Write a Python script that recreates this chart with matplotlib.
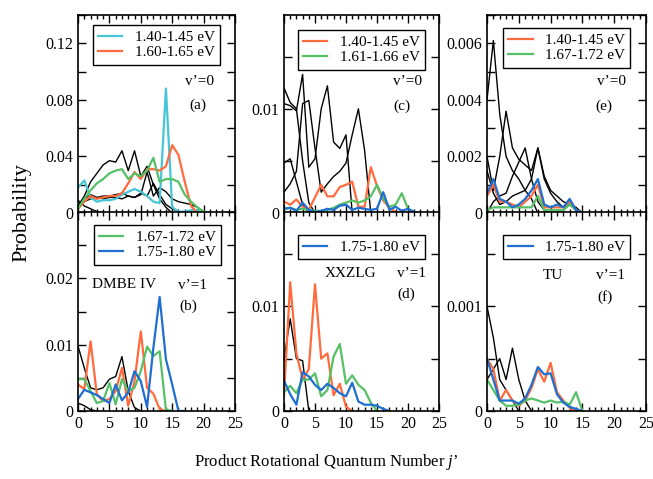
import numpy as np
import matplotlib.pyplot as plt

plt.rcParams["font.family"] = ["Liberation Serif", "DejaVu Serif"]
plt.rcParams["mathtext.fontset"] = "custom"
plt.rcParams["mathtext.it"] = "Liberation Serif:italic"

cyan = "#45c5d5"
orange = "#ff6b3d"
green = "#55c065"
blue = "#1f6fd1"

# (a) DMBE IV, v'=0
a_cyan = [0.018, 0.023, 0.011, 0.008, 0.009, 0.009, 0.010, 0.013, 0.015, 0.017, 0.015,
          0.012, 0.008, 0.007, 0.088, 0.004, 0.001, 0.001, 0.002, 0.002, 0.001, 0.0]
a_orange = [0.003, 0.008, 0.012, 0.010, 0.011, 0.012, 0.012, 0.014, 0.021, 0.029, 0.024,
            0.031, 0.031, 0.030, 0.033, 0.048, 0.041, 0.022, 0.005, 0.0]
a_green = [0.003, 0.010, 0.016, 0.021, 0.024, 0.028, 0.030, 0.031, 0.024, 0.028, 0.026,
           0.030, 0.039, 0.022, 0.024, 0.024, 0.022, 0.013, 0.008, 0.004, 0.001, 0.0]
a_black = [
    [0.005, 0.012, 0.022, 0.028, 0.034, 0.037, 0.036, 0.044, 0.030, 0.044, 0.026, 0.033,
     0.020, 0.010, 0.004, 0.0],
    [0.003, 0.010, 0.013, 0.011, 0.012, 0.012, 0.013, 0.014, 0.012, 0.011, 0.013, 0.029,
     0.012, 0.018, 0.015, 0.010, 0.008, 0.007, 0.006, 0.004, 0.001, 0.0],
    [0.009, 0.005, 0.003, 0.001, 0.0],
    [0.004, 0.008, 0.010, 0.011, 0.010, 0.011, 0.011, 0.010, 0.012, 0.011, 0.014, 0.012,
     0.021, 0.013, 0.006, 0.003, 0.001, 0.0],
]

# (b) DMBE IV, v'=1
b_orange = [0.0040, 0.0033, 0.0105, 0.0025, 0.0015, 0.0018, 0.0030, 0.0065, 0.0008, 0.0045,
            0.0120, 0.0035, 0.0026, 0.0003, 0.0]
b_green = [0.0048, 0.0048, 0.0030, 0.0012, 0.0015, 0.0042, 0.0010, 0.0048, 0.0030, 0.0035,
           0.0060, 0.0097, 0.0083, 0.0090, 0.0002, 0.0]
b_blue = [0.0018, 0.0032, 0.0028, 0.0024, 0.0018, 0.0012, 0.0040, 0.0016, 0.0028, 0.0060,
          0.0045, 0.0006, 0.0095, 0.0172, 0.0078, 0.0040, 0.0, 0.0]
b_black = [
    [0.0098, 0.0065, 0.0035, 0.0032, 0.0035, 0.0048, 0.0052, 0.0082, 0.0030, 0.0005, 0.0],
    [0.0012, 0.0008, 0.0002, 0.0],
]

# (c) XXZLG, v'=0
c_orange = [0.0011, 0.0008, 0.0013, 0.0006, 0.0003, 0.0015, 0.0027, 0.0016, 0.0016, 0.0025,
            0.0027, 0.0030, 0.0006, 0.0006, 0.0044, 0.0026, 0.0012, 0.0005, 0.0001, 0.0]
c_green = [0.0004, 0.0005, 0.0003, 0.0004, 0.0003, 0.0002, 0.0002, 0.0003, 0.0005, 0.0008,
           0.0010, 0.0012, 0.0010, 0.0012, 0.0016, 0.0027, 0.0014, 0.0006, 0.0008, 0.0019,
           0.0004, 0.0001, 0.0]
c_blue = [0.0004, 0.0005, 0.0002, 0.0010, 0.0003, 0.0001, 0.0002, 0.0004, 0.0003, 0.0007,
          0.0008, 0.0003, 0.0005, 0.0004, 0.0003, 0.0004, 0.0020, 0.0003, 0.0006, 0.0002,
          0.0004, 0.0001, 0.0]
c_black = [
    [0.0120, 0.0106, 0.0100, 0.0050, 0.0010, 0.0],
    [0.0105, 0.0103, 0.0098, 0.0133, 0.0044, 0.0052, 0.0100, 0.0122, 0.0068, 0.0062, 0.0075,
     0.0, 0.0],
    [0.0020, 0.0028, 0.0040, 0.0105, 0.0108, 0.0062, 0.0020, 0.0028, 0.0035, 0.0040, 0.0048,
     0.0075, 0.0100, 0.0060, 0.0],
    [0.0048, 0.0052, 0.0030, 0.0008, 0.0],
]

# (d) XXZLG, v'=1
d_orange = [0.0015, 0.0123, 0.0055, 0.0030, 0.0040, 0.0121, 0.0050, 0.0055, 0.0015, 0.0026,
            0.0004, 0.0]
d_green = [0.0018, 0.0024, 0.0017, 0.0030, 0.0030, 0.0036, 0.0014, 0.0020, 0.0052, 0.0064,
           0.0026, 0.0034, 0.0025, 0.0020, 0.0008, 0.0]
d_blue = [0.0029, 0.0016, 0.0006, 0.0037, 0.0033, 0.0025, 0.0020, 0.0026, 0.0022, 0.0017,
          0.0014, 0.0027, 0.0009, 0.0006, 0.0006, 0.0005, 0.0002, 0.0]
d_black = [
    [0.0050, 0.0088, 0.0050, 0.0048, 0.0, 0.0],
]

# (e) TU, v'=0
e_orange = [0.0006, 0.0010, 0.0004, 0.0004, 0.0003, 0.0002, 0.0004, 0.0006, 0.0010, 0.0002,
            0.0002, 0.0002, 0.0002, 0.0004, 0.0001, 0.0]
e_green = [0.0001, 0.0002, 0.0002, 0.0002, 0.0002, 0.0002, 0.0002, 0.0002, 0.0006, 0.0001,
           0.0001, 0.0001, 0.0001, 0.0003, 0.0001, 0.0]
e_blue = [0.0007, 0.0012, 0.0005, 0.0004, 0.0002, 0.0003, 0.0005, 0.0008, 0.0012, 0.0003,
          0.0002, 0.0003, 0.0002, 0.0005, 0.0001, 0.0]
e_black = [
    [0.0040, 0.0061, 0.0035, 0.0020, 0.0015, 0.0012, 0.0008, 0.0005, 0.0],
    [0.0020, 0.0008, 0.0020, 0.0036, 0.0023, 0.0019, 0.0017, 0.0015, 0.0023, 0.0012, 0.0007,
     0.0004, 0.0002, 0.0003, 0.0001, 0.0],
    [0.0, 0.0004, 0.0006, 0.0007, 0.0013, 0.0018, 0.0023, 0.0012, 0.0004, 0.0001, 0.0],
    [0.0015, 0.0007, 0.0003, 0.0004, 0.0006, 0.0007, 0.0008, 0.0012, 0.0023, 0.0013, 0.0008,
     0.0006, 0.0004, 0.0003, 0.0002, 0.0],
]

# (f) TU, v'=1
f_orange = [0.0005, 0.0004, 0.0001, 0.0002, 0.0001, 0.00005, 0.0001, 0.00022, 0.00040,
            0.00028, 0.00046, 0.00018, 0.0001, 0.00003, 0.0]
f_green = [0.0003, 0.0002, 0.0001, 0.00005, 0.00005, 0.00006, 0.0001, 0.00012, 0.0001,
           0.00008, 0.0001, 0.00008, 0.00009, 0.00006, 0.00018, 0.0]
f_blue = [0.0005, 0.0003, 0.0001, 0.0001, 0.0001, 0.00007, 0.00012, 0.00025, 0.00042,
          0.00035, 0.00036, 0.00016, 0.00008, 0.00004, 0.00002, 0.0]
f_black = [
    [0.0010, 0.0007, 0.0003, 0.0002, 0.0001, 0.0],
    [0.0003, 0.0004, 0.0005, 0.0003, 0.0006, 0.0003, 0.0001, 0.0],
]


def draw(ax, blacks, colored):
    for ys in blacks:
        ax.plot(np.arange(len(ys)), ys, color="black", lw=1.0)
    for ys, col, lab in colored:
        ax.plot(np.arange(len(ys)), ys, color=col, lw=1.6, label=lab)


def setup(ax, ymax, ystep, ylabels, bottom):
    ax.set_xlim(0, 25)
    ax.set_ylim(0, ymax)
    ax.set_xticks(range(0, 26, 5))
    ax.set_xticks(range(26), minor=True)
    yt = np.arange(0, ymax + 1e-12, ystep)
    ax.set_yticks(yt)
    ax.set_yticklabels([ylabels.get(i, "") for i in range(len(yt))])
    ax.tick_params(which="both", direction="in", top=True, right=True, labelsize=11.5,
                   width=1.0)
    ax.tick_params(which="major", length=5.5)
    ax.tick_params(which="minor", length=3)
    if not bottom:
        ax.set_xticklabels([])
    for s in ax.spines.values():
        s.set_linewidth(1.2)


def leg(ax, x, y):
    ax.legend(loc="upper right", bbox_to_anchor=(x, y), fontsize=11, frameon=True,
              fancybox=False, edgecolor="black", framealpha=1, handlelength=1.6,
              handletextpad=0.8, labelspacing=0.1, borderpad=0.35, borderaxespad=0)


def note(ax, x, y, s):
    ax.text(x, y, s, transform=ax.transAxes, ha="center", va="center", fontsize=11)


fig = plt.figure(figsize=(6.53, 4.79), dpi=100)
cols = [(78, 157), (284, 155), (487, 159)]
rows = [(15, 198), (212, 199)]
axes = {}
for r, (top, h) in enumerate(rows):
    for c, (left, w) in enumerate(cols):
        axes[(r, c)] = fig.add_axes([left / 653, 1 - (top + h) / 479, w / 653, h / 479])

# (a)
ax = axes[(0, 0)]
draw(ax, a_black, [(a_cyan, cyan, "1.40-1.45 eV"), (a_orange, orange, "1.60-1.65 eV"),
                   (a_green, green, None)])
setup(ax, 0.14, 0.02, {0: "0", 2: "0.04", 4: "0.08", 6: "0.12"}, False)
leg(ax, 0.904, 0.95)
note(ax, 0.777, 0.662, "v’=0")
note(ax, 0.764, 0.545, "(a)")

# (b)
ax = axes[(1, 0)]
draw(ax, b_black, [(b_orange, orange, None), (b_green, green, "1.67-1.72 eV"),
                   (b_blue, blue, "1.75-1.80 eV")])
setup(ax, 0.03, 0.005, {0: "0", 2: "0.01", 4: "0.02"}, True)
leg(ax, 0.91, 0.934)
note(ax, 0.293, 0.637, "DMBE IV")
note(ax, 0.729, 0.633, "v’=1")
note(ax, 0.70, 0.524, "(b)")

# (c)
ax = axes[(0, 1)]
draw(ax, c_black, [(c_orange, orange, "1.40-1.45 eV"), (c_green, green, "1.61-1.66 eV"),
                   (c_blue, blue, None)])
setup(ax, 0.019, 0.005, {0: "0", 2: "0.01"}, False)
leg(ax, 0.91, 0.924)
note(ax, 0.797, 0.663, "v’=0")
note(ax, 0.758, 0.537, "(c)")

# (d)
ax = axes[(1, 1)]
draw(ax, d_black, [(d_orange, orange, None), (d_green, green, None),
                   (d_blue, blue, "1.75-1.80 eV")])
setup(ax, 0.019, 0.005, {0: "0", 2: "0.01"}, True)
leg(ax, 0.91, 0.884)
note(ax, 0.426, 0.692, "XXZLG")
note(ax, 0.824, 0.692, "v’=1")
note(ax, 0.787, 0.586, "(d)")

# (e)
ax = axes[(0, 2)]
draw(ax, e_black, [(e_orange, orange, "1.40-1.45 eV"), (e_green, green, "1.67-1.72 eV"),
                   (e_blue, blue, None)])
setup(ax, 0.007, 0.001, {0: "0", 2: "0.002", 4: "0.004", 6: "0.006"}, False)
leg(ax, 0.90, 0.934)
note(ax, 0.784, 0.663, "v’=0")
note(ax, 0.736, 0.537, "(e)")

# (f)
ax = axes[(1, 2)]
draw(ax, f_black, [(f_orange, orange, None), (f_green, green, None),
                   (f_blue, blue, "1.75-1.80 eV")])
setup(ax, 0.0019, 0.0005, {0: "0", 2: "0.001"}, True)
leg(ax, 0.90, 0.884)
note(ax, 0.415, 0.683, "TU")
note(ax, 0.774, 0.683, "v’=1")
note(ax, 0.742, 0.574, "(f)")

fig.text(0.034, 0.557, "Probability", rotation=90, ha="center", va="center", fontsize=16)
fig.text(0.5, 0.035, "Product Rotational Quantum Number $j$’", ha="center", va="center",
         fontsize=12)

fig.savefig("out.png", dpi=100)
